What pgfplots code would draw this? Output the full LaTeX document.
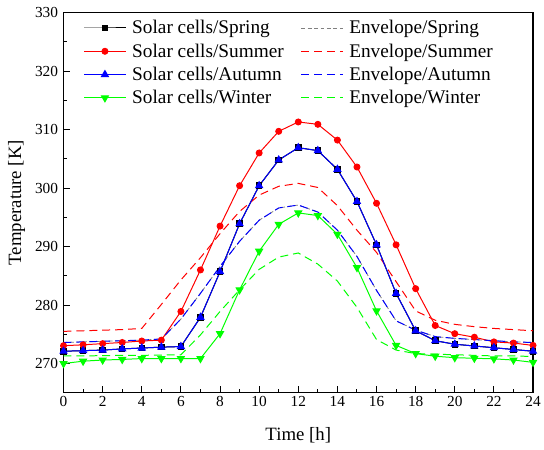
\documentclass[border=0pt]{standalone}
\usepackage{fontspec}
\setmainfont{Liberation Serif}
\usepackage{pgfplots}
\pgfplotsset{compat=1.18}
\begin{document}
\begin{tikzpicture}
\begin{axis}[
  scale only axis, width=473bp, height=383bp,
  xmin=0, xmax=24, ymin=265, ymax=330,
  xtick={0,2,...,24}, ytick={270,280,...,330},
  minor x tick num=1, minor y tick num=1,
  tick align=inside, xtick pos=bottom, ytick pos=left,
  major tick length=7bp, minor tick length=4bp,
  every tick/.style={black, line width=1bp},
  axis line style={line width=1.2bp},
  ticklabel style={font=\fontsize{15.5}{18}\selectfont},
  yticklabel style={xshift=-2bp},
  /pgf/number format/assume math mode=true,
  xlabel={Time [h]}, ylabel={Temperature [K]},
  label style={font=\fontsize{19}{22}\selectfont},
  xlabel style={at={(axis description cs:0.5,-0.113)}, anchor=center},
  ylabel style={at={(axis description cs:-0.1,0.5)}, anchor=center},
  legend columns=2,
  legend cell align=left,
  legend style={draw=none, fill=none, at={(axis description cs:0.036,0.99)}, anchor=north west,
    font=\fontsize{19.5}{22}\selectfont, row sep=4.5bp,
    /tikz/every odd column/.append style={column sep=4bp},
    /tikz/every even column/.append style={column sep=15bp}},
  legend image code/.code={\draw[mark repeat=2,mark phase=2] plot coordinates {(0bp,0bp) (21bp,0bp) (42bp,0bp)};},
]
% Solar cells / Spring
\addplot[black, line width=1bp, mark=square*, mark size=2.8bp, mark options={solid}] coordinates {
(0,272.1) (1,272.2) (2,272.3) (3,272.5) (4,272.65) (5,272.8) (6,272.9) (7,277.9) (8,285.7) (9,293.9) (10,300.4) (11,304.8) (12,306.9) (13,306.4) (14,303.2) (15,297.7) (16,290.3) (17,282.0) (18,275.6) (19,273.9) (20,273.3) (21,273.0) (22,272.7) (23,272.4) (24,272.1)};
\addlegendentry{Solar cells/Spring}
% Envelope / Spring
\addplot[gray, line width=0.8bp, dash pattern=on 4bp off 2.5bp] coordinates {
(0,273.6) (1,273.7) (2,273.8) (3,273.9) (4,274.0) (5,274.2) (6,277.6) (7,282.0) (8,286.6) (9,290.9) (10,294.5) (11,296.6) (12,297.1) (13,295.9) (14,292.8) (15,288.3) (16,282.5) (17,277.3) (18,275.7) (19,274.6) (20,274.3) (21,274.1) (22,273.9) (23,273.7) (24,273.6)};
\addlegendentry{Envelope/Spring}
% Solar cells / Summer
\addplot[red, line width=1bp, mark=*, mark size=3bp, mark options={solid}] coordinates {
(0,273.05) (1,273.2) (2,273.4) (3,273.6) (4,273.85) (5,274.0) (6,278.9) (7,286.0) (8,293.5) (9,300.4) (10,306.0) (11,309.7) (12,311.3) (13,310.9) (14,308.2) (15,303.6) (16,297.4) (17,290.3) (18,282.8) (19,276.5) (20,275.1) (21,274.5) (22,273.7) (23,273.5) (24,273.1)};
\addlegendentry{Solar cells/Summer}
% Envelope / Summer
\addplot[red, line width=1bp, dash pattern=on 8bp off 5bp] coordinates {
(0,275.5) (1,275.6) (2,275.7) (3,275.8) (4,276.0) (5,280.1) (6,284.3) (7,288.1) (8,292.2) (9,296.0) (10,298.8) (11,300.3) (12,300.8) (13,300.1) (14,297.0) (15,292.8) (16,289.0) (17,284.0) (18,279.0) (19,277.4) (20,276.7) (21,276.3) (22,276.0) (23,275.8) (24,275.6)};
\addlegendentry{Envelope/Summer}
% Solar cells / Autumn
\addplot[blue, line width=1bp, mark=triangle*, mark size=4bp, mark options={solid}] coordinates {
(0,272.1) (1,272.2) (2,272.3) (3,272.5) (4,272.65) (5,272.8) (6,272.9) (7,277.9) (8,285.7) (9,293.9) (10,300.4) (11,304.8) (12,306.9) (13,306.4) (14,303.2) (15,297.7) (16,290.3) (17,282.0) (18,275.6) (19,273.9) (20,273.3) (21,273.0) (22,272.7) (23,272.4) (24,272.1)};
\addlegendentry{Solar cells/Autumn}
% Envelope / Autumn
\addplot[blue, line width=1bp, dash pattern=on 8bp off 5bp] coordinates {
(0,273.6) (1,273.7) (2,273.8) (3,273.9) (4,274.0) (5,274.2) (6,277.6) (7,282.0) (8,286.6) (9,290.9) (10,294.5) (11,296.6) (12,297.1) (13,295.9) (14,292.8) (15,288.3) (16,282.5) (17,277.3) (18,275.7) (19,274.6) (20,274.3) (21,274.1) (22,273.9) (23,273.7) (24,273.6)};
\addlegendentry{Envelope/Autumn}
% Solar cells / Winter
\addplot[green, line width=1bp, mark=triangle*, mark size=4bp, mark options={solid, rotate=180}] coordinates {
(0,270.0) (1,270.4) (2,270.6) (3,270.7) (4,270.85) (5,270.85) (6,270.85) (7,270.85) (8,275.1) (9,282.6) (10,289.2) (11,293.8) (12,295.75) (13,295.3) (14,292.1) (15,286.4) (16,279.0) (17,273.1) (18,271.7) (19,271.25) (20,271.0) (21,270.9) (22,270.8) (23,270.6) (24,270.2)};
\addlegendentry{Solar cells/Winter}
% Envelope / Winter
\addplot[green, line width=1bp, dash pattern=on 8bp off 5bp] coordinates {
(0,271.3) (1,271.3) (2,271.35) (3,271.4) (4,271.4) (5,271.45) (6,271.5) (7,274.9) (8,278.9) (9,282.6) (10,286.1) (11,288.2) (12,288.9) (13,287.0) (14,284.1) (15,279.6) (16,274.1) (17,272.3) (18,271.7) (19,271.6) (20,271.5) (21,271.4) (22,271.3) (23,271.3) (24,271.2)};
\addlegendentry{Envelope/Winter}
\end{axis}
\path ([shift={(-64bp,-57.3bp)}]current axis.south west) rectangle ([shift={(7bp,12.7bp)}]current axis.north east);
\end{tikzpicture}
\end{document}
